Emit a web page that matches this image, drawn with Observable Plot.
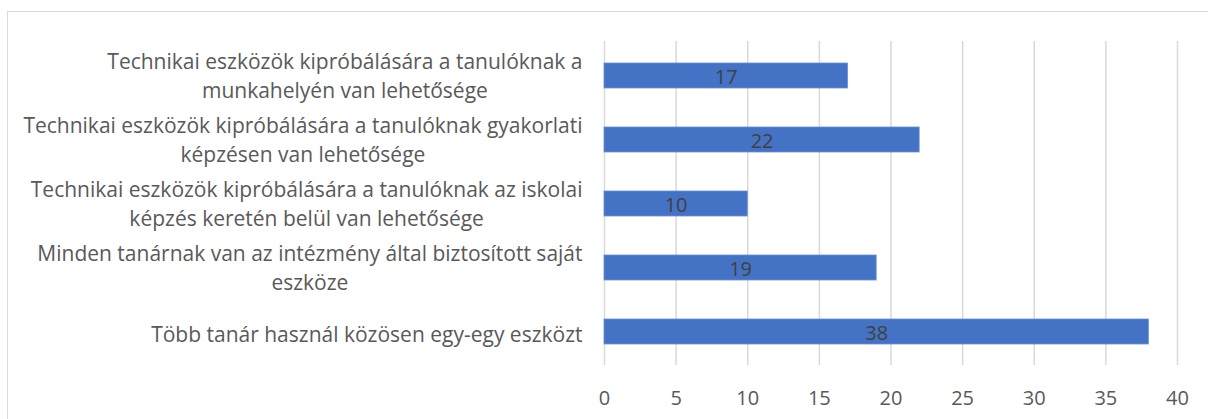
<!DOCTYPE html>
<html><head><meta charset="utf-8">
<script src="https://cdn.jsdelivr.net/npm/d3@7"></script>
<script src="https://cdn.jsdelivr.net/npm/@observablehq/plot@0.6"></script>
<style>
html,body{margin:0;padding:0;background:#fff;}
body{overflow:hidden;width:1208px;height:419px;position:relative}
#frame{position:absolute;left:7px;top:11px;width:1300px;height:500px;border:1px solid #d9d9d9;box-sizing:border-box}
#chart{position:absolute;left:0;top:0}
</style></head><body><div id="frame"></div><div id="chart"></div>
<script>
const categories = [
  "Technikai eszközök kipróbálására a tanulóknak a munkahelyén van lehetősége",
  "Technikai eszközök kipróbálására a tanulóknak gyakorlati képzésen van lehetősége",
  "Technikai eszközök kipróbálására a tanulóknak az iskolai képzés keretén belül van lehetősége",
  "Minden tanárnak van az intézmény által biztosított saját eszköze",
  "Több tanár használ közösen egy-egy eszközt"
];
const labelLines = [
  ["Technikai eszközök kipróbálására a tanulóknak a", "munkahelyén van lehetősége"],
  ["Technikai eszközök kipróbálására a tanulóknak gyakorlati", "képzésen van lehetősége"],
  ["Technikai eszközök kipróbálására a tanulóknak az iskolai", "képzés keretén belül van lehetősége"],
  ["Minden tanárnak van az intézmény által biztosított saját", "eszköze"],
  ["Több tanár használ közösen egy-egy eszközt"]
];
const values = [17, 22, 10, 19, 38];
const xTicks = [0, 5, 10, 15, 20, 25, 30, 35, 40];

const FONT = "Open Sans";
const LFS = 21;   // category label size
const NFS = 20;   // number size
const data = categories.map((c, i) => ({cat: c, value: values[i], lines: labelLines[i]}));

const ctx = document.createElement("canvas").getContext("2d");
ctx.font = `${LFS}px "${FONT}"`;
const blockWidth = lines => Math.max(...lines.map(l => ctx.measureText(l).width));

const labelAxes = data.map(d => Plot.axisY({
  ticks: [d.cat],
  tickSize: 0,
  tickPadding: 22 + blockWidth(d.lines) / 2,
  textAnchor: "middle",
  lineHeight: 28.5 / LFS,
  fontSize: LFS,
  dy: d.lines.length > 1 ? -1.5 : 1,
  tickFormat: () => d.lines.join("\n"),
  fill: "#595959"
}));

const chart = Plot.plot({
  width: 1208,
  height: 419,
  marginLeft: 604,
  marginRight: 31,
  marginTop: 41,
  marginBottom: 54,
  style: {fontFamily: FONT, fontSize: LFS + "px", color: "#595959", background: "transparent"},
  x: {domain: [0, 40], ticks: xTicks, label: null},
  y: {domain: categories, paddingInner: 0.614, paddingOuter: 0.307, align: 0.5, label: null},
  marks: [
    Plot.gridX(xTicks, {stroke: "#d9d9d9", strokeOpacity: 1, strokeWidth: 1.5}),
    Plot.barX(data, {y: "cat", x: "value", fill: "#4472C4", stroke: "#6b8fd4", strokeWidth: 0.8}),
    Plot.text(data, {y: "cat", x: d => d.value / 2, text: d => String(d.value), fill: "#404040", fontSize: NFS, dy: 2}),
    Plot.axisX({ticks: xTicks, tickSize: 0, tickPadding: 25, fill: "#595959", fontSize: NFS}),
    ...labelAxes
  ]
});
document.getElementById("chart").appendChild(chart);
</script>
</body></html>
